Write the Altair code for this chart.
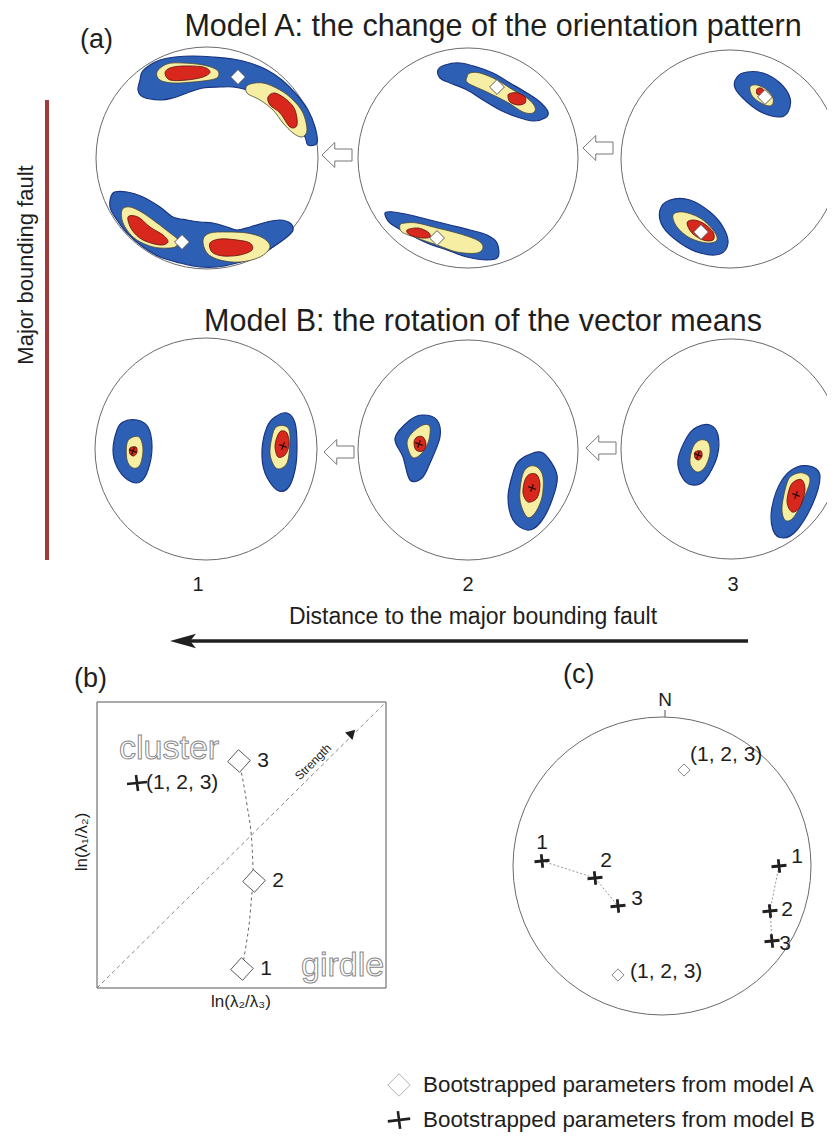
import altair as alt
import pandas as pd

# ------------------------------------------------------------------ frame
PX0, PX1, PY0, PY1 = 8, 827, 8, 1132
FONT = "Liberation Sans"
INK = "#1e1e1e"

# ------------------------------------------------------------------ stereonets (centre x, centre y, radius in px)
NET_ID = ["A1", "A2", "A3", "B1", "B2", "B3", "C"]
NET_X = [207, 468, 730, 206, 468, 731, 662]
NET_Y = [158, 158, 159, 449, 450, 449, 866]
NET_R = [111, 110, 109, 111, 110, 110, 149]

# ------------------------------------------------------------------ density contours (outline vertices)
BLUE_SHAPES = {
    "A1_top": [(140, 80), (138, 90), (143, 97), (160, 100), (173, 98), (187, 93), (203, 88), (220, 87), (233, 87),
               (247, 90), (260, 95), (273, 103), (287, 115), (297, 127), (305, 137), (308, 145), (317, 143),
               (315, 127), (308, 110), (297, 95), (282, 80), (267, 70), (250, 63), (233, 59), (213, 57), (193, 56),
               (175, 57), (160, 60), (150, 65), (142, 72)],
    "A1_bot": [(113, 193), (127, 192), (143, 197), (160, 207), (173, 217), (187, 220), (200, 222), (213, 223),
               (227, 227), (237, 230), (250, 227), (267, 222), (280, 220), (290, 223), (293, 230), (287, 237),
               (273, 247), (257, 257), (237, 263), (217, 267), (200, 267), (180, 263), (160, 257), (143, 247),
               (127, 233), (117, 220), (110, 207)],
    "A2_top": [(438, 70), (440, 78), (450, 83), (467, 90), (483, 100), (500, 110), (517, 117), (533, 121), (545, 118),
               (548, 112), (540, 102), (527, 93), (510, 83), (493, 73), (477, 67), (460, 63), (445, 65)],
    "A2_bot": [(385, 213), (390, 223), (407, 233), (427, 243), (447, 250), (467, 257), (487, 260), (498, 257),
               (497, 243), (487, 235), (470, 230), (450, 225), (430, 220), (410, 215), (393, 212)],
    "A3_top": [(737, 77), (735, 88), (747, 102), (763, 113), (780, 117), (788, 112), (790, 98), (780, 83), (763, 73),
               (747, 72)],
    "A3_bot": [(660, 210), (663, 227), (680, 243), (700, 253), (720, 254), (728, 243), (723, 227), (710, 212),
               (690, 200), (670, 200)],
    "B1_l": [(117, 430), (113, 450), (117, 467), (128, 480), (140, 482), (148, 470), (152, 447), (148, 427), (137, 420),
             (123, 422)],
    "B1_r": [(267, 427), (262, 450), (265, 473), (277, 490), (288, 488), (295, 470), (297, 447), (295, 423), (287, 413),
             (275, 417)],
    "B2_l": [(395, 438), (403, 457), (410, 480), (422, 478), (430, 463), (440, 437), (437, 420), (423, 415), (410, 420)],
    "B2_r": [(513, 473), (508, 497), (513, 520), (527, 530), (540, 523), (552, 500), (557, 475), (543, 453), (528, 455),
             (518, 462)],
    "B3_l": [(687, 437), (678, 460), (682, 477), (692, 485), (705, 480), (717, 457), (718, 435), (710, 425), (697, 427)],
    "B3_r": [(782, 480), (772, 507), (773, 530), (783, 538), (797, 530), (813, 503), (820, 477), (813, 467), (797, 467)],
}
YELLOW_SHAPES = {
    "A1_tl": [(157, 72), (160, 80), (173, 83), (193, 82), (210, 80), (218, 77), (217, 70), (203, 65), (183, 63), (167, 64)],
    "A1_tr": [(248, 85), (247, 93), (260, 100), (273, 110), (283, 123), (293, 133), (302, 137), (307, 130), (303, 113),
              (293, 100), (280, 90), (263, 83)],
    "A1_bl": [(122, 210), (123, 223), (133, 237), (147, 245), (160, 248), (175, 247), (178, 240), (170, 233), (157, 223),
              (143, 213), (130, 207)],
    "A1_br": [(203, 240), (207, 253), (220, 260), (240, 262), (260, 257), (270, 247), (263, 238), (247, 233), (227, 232),
              (210, 233)],
    "A2_top": [(467, 77), (468, 83), (487, 92), (507, 102), (523, 112), (533, 113), (535, 107), (527, 98), (513, 90),
               (497, 80), (480, 73), (470, 73)],
    "A2_bot": [(400, 225), (402, 232), (417, 238), (437, 245), (457, 252), (477, 253), (483, 247), (477, 240), (457, 233),
               (437, 228), (417, 223), (405, 223)],
    "A3_top": [(750, 87), (753, 97), (765, 105), (772, 105), (773, 98), (767, 90), (757, 85)],
    "A3_bot": [(673, 215), (677, 227), (690, 238), (707, 243), (717, 240), (713, 230), (700, 218), (683, 212)],
    "B1_l": [(127, 443), (127, 460), (133, 468), (140, 465), (143, 450), (140, 438), (133, 437)],
    "B1_r": [(273, 433), (270, 453), (275, 467), (282, 468), (288, 460), (290, 437), (287, 427), (278, 426)],
    "B2_l": [(407, 443), (412, 457), (420, 455), (428, 443), (430, 427), (423, 425), (412, 433)],
    "B2_r": [(522, 477), (520, 500), (527, 517), (535, 513), (542, 497), (543, 477), (537, 467), (528, 467)],
    "B3_l": [(693, 447), (690, 463), (697, 472), (705, 467), (710, 453), (708, 442), (700, 440)],
    "B3_r": [(787, 483), (782, 507), (785, 520), (793, 518), (803, 500), (810, 480), (803, 473), (793, 475)],
}
RED_SHAPES = {
    "A1_tl": [(165, 73), (170, 80), (187, 80), (203, 77), (210, 72), (203, 67), (183, 66), (170, 68)],
    "A1_tr": [(268, 97), (270, 105), (280, 113), (290, 127), (297, 125), (295, 110), (287, 100), (275, 93)],
    "A1_bl": [(128, 217), (132, 230), (143, 240), (160, 245), (168, 242), (163, 235), (150, 227), (138, 217)],
    "A1_br": [(210, 243), (212, 252), (223, 256), (240, 255), (252, 250), (250, 243), (237, 240), (220, 239)],
    "A2_top": [(508, 95), (510, 102), (518, 105), (525, 103), (525, 97), (518, 93), (512, 93)],
    "A2_bot": [(407, 230), (410, 235), (422, 238), (430, 237), (428, 232), (418, 228)],
    "A3_top": [(757, 89), (757, 94), (762, 95), (764, 91), (761, 88)],
    "A3_bot": [(687, 223), (692, 233), (703, 240), (713, 240), (713, 232), (703, 223), (693, 220)],
    "B1_l": [(130, 448), (130, 454), (134, 456), (137, 452), (136, 447)],
    "B1_r": [(277, 437), (275, 447), (278, 457), (285, 455), (289, 445), (287, 433), (281, 431)],
    "B2_l": [(414, 442), (416, 450), (423, 451), (426, 444), (423, 437), (417, 437)],
    "B2_r": [(525, 480), (523, 493), (528, 502), (537, 498), (540, 485), (537, 475), (530, 474)],
    "B3_l": [(695, 452), (695, 458), (699, 460), (702, 456), (701, 451)],
    "B3_r": [(790, 487), (787, 502), (792, 512), (800, 507), (805, 490), (802, 480), (795, 481)],
}

# model A mean orientations (white squares) and model B vector means (crosses)
A_MEAN_X = [238, 182, 497, 437, 765, 701]
A_MEAN_Y = [77, 242, 87, 238, 97, 232]
B_MEAN_X = [133, 283, 419, 532, 698, 796]
B_MEAN_Y = [451, 446, 444, 488, 455, 495]

# hollow arrows between stereonets
HARROW_X = [337, 598, 339, 601]
HARROW_Y = [155, 148, 452, 448]

# ------------------------------------------------------------------ panel (b)
BOX = (97, 386, 702, 988)            # x0, x1, y0, y1
B_DIAM_LABEL = ["3", "2", "1"]
B_DIAM_X = [239, 254, 242]
B_DIAM_Y = [761, 881, 969]
B_CURVE_X = [239, 247, 252, 254, 249, 242]
B_CURVE_Y = [761, 805, 845, 881, 925, 969]
B_CROSS = (137, 783)

# ------------------------------------------------------------------ panel (c)
C_CHAIN = ["L", "L", "L", "R", "R", "R"]
C_CROSS_X = [542, 595, 618, 779, 770, 772]
C_CROSS_Y = [861, 878, 906, 866, 911, 941]
C_CROSS_LABEL = ["1", "2", "3", "1", "2", "3"]
C_LABEL_X = [542, 606, 637, 797, 787, 785]
C_LABEL_Y = [843, 861, 899, 857, 910, 944]
C_DIAM_X = [684, 618]
C_DIAM_Y = [770, 975]

# ------------------------------------------------------------------ helpers
XS = alt.Scale(domain=[PX0, PX1], nice=False, zero=False)
YS = alt.Scale(domain=[PY0, PY1], nice=False, zero=False, reverse=True)


def ex(f="x"):
    return alt.X(f"{f}:Q", scale=XS, axis=None)


def ey(f="y"):
    return alt.Y(f"{f}:Q", scale=YS, axis=None)


def shape_df(shapes):
    rows = []
    for name, pts in shapes.items():
        for i, (x, y) in enumerate(pts):
            rows.append({"id": name, "i": i, "x": x, "y": y})
    return pd.DataFrame(rows)


def blob_layer(shapes, fill, stroke, sw):
    return alt.Chart(shape_df(shapes)).mark_line(
        filled=True, interpolate="cardinal-closed", fill=fill, stroke=stroke, strokeWidth=sw, opacity=1
    ).encode(x=ex(), y=ey(), detail="id:N", order="i:Q")


def text_layer(t, x, y, **kw):
    props = dict(font=FONT, color=INK, baseline="middle", align="center")
    props.update(kw)
    df = pd.DataFrame({"t": t, "x": x, "y": y})
    return alt.Chart(df).mark_text(**props).encode(x=ex(), y=ey(), text="t:N")


def point_layer(x, y, shape, size, **kw):
    props = dict(shape=shape, size=size, opacity=1)
    props.update(kw)
    df = pd.DataFrame({"x": x, "y": y})
    return alt.Chart(df).mark_point(**props).encode(x=ex(), y=ey())


layers = []

# stereonet primitive circles
nets = pd.DataFrame({"id": NET_ID, "x": NET_X, "y": NET_Y, "r": NET_R})
nets["s"] = (2 * nets["r"]) ** 2
layers.append(
    alt.Chart(nets).mark_point(shape="circle", filled=False, color="#6a6a6a", strokeWidth=1, opacity=1)
    .encode(x=ex(), y=ey(), size=alt.Size("s:Q", scale=None))
)

# contours
layers.append(blob_layer(BLUE_SHAPES, "#2d5fb5", "#1a3580", 1.2))
layers.append(blob_layer(YELLOW_SHAPES, "#f6eea2", "#4a4630", 0.8))
layers.append(blob_layer(RED_SHAPES, "#d8281d", "#5a120c", 0.8))

# means
layers.append(point_layer(A_MEAN_X, A_MEAN_Y, "square", 110, filled=True, fill="white", stroke="#444",
                          strokeWidth=0.8, angle=45))
layers.append(point_layer(B_MEAN_X, B_MEAN_Y, "M-1,0L1,0M0,-1L0,1", 64, filled=False, color="#2a0a05",
                          strokeWidth=1.2, angle=20))

# hollow arrows
ARROW_PATH = "M-1,0L-0.15,-0.83L-0.15,-0.4L1,-0.4L1,0.4L-0.15,0.4L-0.15,0.83Z"
layers.append(point_layer(HARROW_X, HARROW_Y, ARROW_PATH, 900, filled=True, fill="white", stroke="#777",
                          strokeWidth=1))

# major bounding fault bar
fault = pd.DataFrame({"x": [47], "y": [100], "y2": [560]})
layers.append(alt.Chart(fault).mark_rule(color="#a03b3b", strokeWidth=4)
              .encode(x=ex(), y=ey(), y2=alt.Y2("y2:Q")))

# distance arrow
dist = pd.DataFrame({"x": [190], "x2": [748], "y": [641]})
layers.append(alt.Chart(dist).mark_rule(color="#202020", strokeWidth=3.5)
              .encode(x=ex(), x2=alt.X2("x2:Q"), y=ey()))
layers.append(point_layer([183], [641], "M-1,0L1,-0.55L0.55,0L1,0.55Z", 676, filled=True, color="#202020"))

# ---------------- panel (b)
box = pd.DataFrame({"x": [BOX[0]], "x2": [BOX[1]], "y": [BOX[2]], "y2": [BOX[3]]})
layers.append(alt.Chart(box).mark_rect(filled=False, color="#555555", strokeWidth=1)
              .encode(x=ex(), x2=alt.X2("x2:Q"), y=ey(), y2=alt.Y2("y2:Q")))
diag = pd.DataFrame({"x": [BOX[0], BOX[1]], "y": [BOX[3], BOX[2]]})
layers.append(alt.Chart(diag).mark_line(color="#7a7a7a", strokeWidth=0.9, strokeDash=[4, 3])
              .encode(x=ex(), y=ey()))
curve = pd.DataFrame({"x": B_CURVE_X, "y": B_CURVE_Y, "i": range(len(B_CURVE_X))})
layers.append(alt.Chart(curve).mark_line(color="#555555", strokeWidth=0.9, strokeDash=[3, 3],
                                         interpolate="monotone")
              .encode(x=ex(), y=ey(), order="i:Q"))
layers.append(point_layer(B_DIAM_X, B_DIAM_Y, "square", 256, filled=True, fill="white", stroke="#555",
                          strokeWidth=0.9, angle=42))
layers.append(point_layer([352], [733], "triangle-right", 110, filled=True, color="#202020", angle=315))
layers.append(point_layer([B_CROSS[0]], [B_CROSS[1]], "M-1,0.1L1,-0.1M-0.1,-0.8L0.1,0.8", 400, filled=False,
                          color="#202020", strokeWidth=2.6))
layers.append(text_layer(B_DIAM_LABEL, [x + 24 for x in B_DIAM_X], B_DIAM_Y, fontSize=21))
layers.append(text_layer(["(1, 2, 3)"], [B_CROSS[0] + 9], [B_CROSS[1]], fontSize=21, align="left"))
layers.append(text_layer(["cluster", "girdle"], [119, 301], [759, 976], fontSize=34, align="left",
                         baseline="alphabetic", fill="white", stroke="#8a8a8a", strokeWidth=1))
layers.append(text_layer(["Strength"], [313], [762], fontSize=12, angle=315))
layers.append(text_layer(["ln(λ₁/λ₂)"], [82], [842], fontSize=17, angle=270))
layers.append(text_layer(["ln(λ₂/λ₃)"], [241], [1002], fontSize=17))

# ---------------- panel (c)
north = pd.DataFrame({"x": [665], "y": [710], "y2": [717]})
layers.append(alt.Chart(north).mark_rule(color="#555", strokeWidth=1)
              .encode(x=ex(), y=ey(), y2=alt.Y2("y2:Q")))
chains = pd.DataFrame({"chain": C_CHAIN, "x": C_CROSS_X, "y": C_CROSS_Y, "i": range(6)})
layers.append(alt.Chart(chains).mark_line(color="#8a8a8a", strokeWidth=0.9, strokeDash=[2, 2])
              .encode(x=ex(), y=ey(), detail="chain:N", order="i:Q"))
layers.append(point_layer(C_CROSS_X, C_CROSS_Y, "M-1,0.1L1,-0.1M-0.1,-0.9L0.1,0.9", 225, filled=False,
                          color="#202020", strokeWidth=2.8))
layers.append(point_layer(C_DIAM_X, C_DIAM_Y, "diamond", 150, filled=True, fill="white", stroke="#777",
                          strokeWidth=0.9))
layers.append(text_layer(C_CROSS_LABEL, C_LABEL_X, C_LABEL_Y, fontSize=21))
layers.append(text_layer(["(1, 2, 3)", "(1, 2, 3)"], [690, 630], [755, 972], fontSize=21, align="left"))
layers.append(text_layer(["N"], [665], [700], fontSize=19))

# ---------------- headings and labels
layers.append(text_layer(["Model A: the change of the orientation pattern",
                          "Model B: the rotation of the vector means"],
                         [493, 483], [36, 331], fontSize=30.5, baseline="alphabetic"))
layers.append(text_layer(["(a)", "(b)", "(c)"], [80, 74, 563], [48, 687, 683], fontSize=27,
                         align="left", baseline="alphabetic"))
layers.append(text_layer(["1", "2", "3"], [198, 468, 733], [585, 585, 585], fontSize=20))
layers.append(text_layer(["Distance to the major bounding fault"], [473], [617], fontSize=23))
layers.append(text_layer(["Major bounding fault"], [26], [265], fontSize=22, angle=270))

# ---------------- legend
layers.append(point_layer([399], [1085], "diamond", 500, filled=True, fill="white", stroke="#aaaaaa",
                          strokeWidth=0.9))
layers.append(point_layer([399], [1120], "M-1,0.12L1,-0.12M-0.1,-0.8L0.1,0.8", 500, filled=False,
                          color="#202020", strokeWidth=2.6))
layers.append(text_layer(["Bootstrapped parameters from model A", "Bootstrapped parameters from model B"],
                         [423, 423], [1085, 1120], fontSize=22.4, align="left"))

chart = alt.layer(*layers).properties(
    width=PX1 - PX0, height=PY1 - PY0, padding=0,
    autosize=alt.AutoSizeParams(type="none"),
).configure_view(stroke=None)

chart.save("out.html", embed_options={"renderer": "svg", "actions": False})
